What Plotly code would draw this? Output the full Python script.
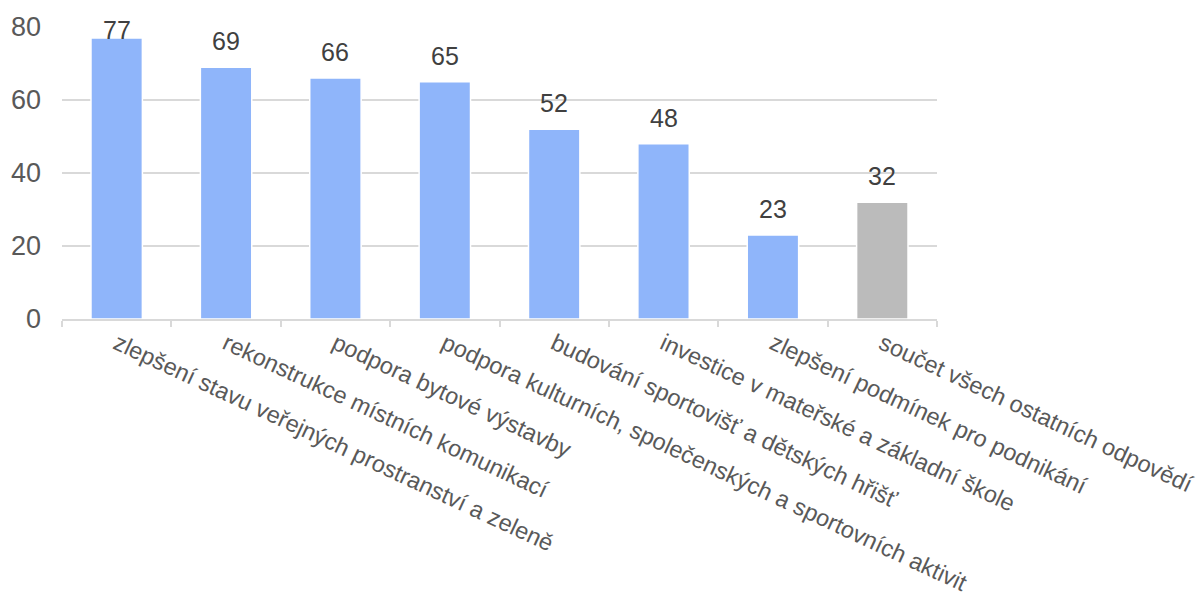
import plotly.graph_objects as go

categories = [
    "zlepšení stavu veřejných prostranství a zeleně",
    "rekonstrukce místních komunikací",
    "podpora bytové výstavby",
    "podpora kulturních, společenských a sportovních aktivit",
    "budování sportovišť a dětských hřišť",
    "investice v mateřské a základní škole",
    "zlepšení podmínek pro podnikání",
    "součet všech ostatních odpovědí",
]
values = [77, 69, 66, 65, 52, 48, 23, 32]
bar_colors = ["#8FB5FA"] * 7 + ["#BBBBBB"]
label_shift = [8, 26, 26, 26, 26, 26, 26, 26]

FONT = "Liberation Sans, Arial, sans-serif"

fig = go.Figure()
fig.add_trace(go.Bar(
    x=categories, y=values,
    marker=dict(color=bar_colors, line=dict(color="white", width=1.5)),
    width=0.47,
    hoverinfo="x+y",
))

for c, v, s in zip(categories, values, label_shift):
    fig.add_annotation(x=c, y=v, text=str(v), showarrow=False,
                       yanchor="middle", yshift=s,
                       font=dict(family=FONT, size=25, color="#404040"))

fig.update_layout(
    width=1204, height=602,
    margin=dict(l=54, r=275, t=19, b=291),
    paper_bgcolor="white", plot_bgcolor="white",
    showlegend=False,
    font=dict(family=FONT, color="#595959"),
    xaxis=dict(
        type="category",
        tickangle=25,
        automargin=False,
        tickfont=dict(family=FONT, size=23.5, color="#595959"),
        showline=True, linecolor="#D9D9D9", linewidth=2,
        ticks="outside", tickson="boundaries", ticklen=6, tickcolor="#D9D9D9", tickwidth=2,
        showgrid=False,
    ),
    yaxis=dict(
        range=[0, 80],
        automargin=False,
        tickvals=[0, 20, 40, 60, 80],
        tickfont=dict(family=FONT, size=27, color="#595959"),
        showgrid=True, gridcolor="#D9D9D9", gridwidth=2,
        zeroline=False, showline=False,
        ticks="", ticklabelstandoff=20,
    ),
)

fig.write_html("out.html")
